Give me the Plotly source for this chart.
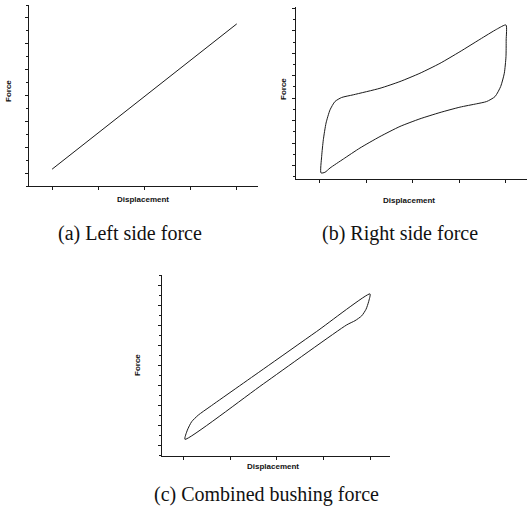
import plotly.graph_objects as go

# (a) Left side force: linear spring
left_disp = [-1.0, 1.0]
left_force = [-2.85, 2.77]

# (b) Right side force: hysteresis loop (loading branch, then unloading branch)
right_disp = [-0.989, -0.982, -0.964, -0.935, -0.892, -0.839, -0.767, -0.642, -0.355,
              -0.14, 0.075, 0.29, 0.505, 0.72, 0.90, 1.0,
              1.002, 1.0, 0.982, 0.943, 0.882, 0.792, 0.685, 0.505, 0.29, 0.075,
              -0.14, -0.355, -0.57, -0.749, -0.892, -0.946, -0.989]
right_force = [-3.33, -2.59, -1.85, -1.11, -0.52, -0.15, 0.03, 0.15, 0.44,
               0.74, 1.11, 1.55, 2.07, 2.62, 3.07, 3.26,
               2.59, 1.85, 1.11, 0.52, 0.07, -0.15, -0.25, -0.40, -0.64, -0.92,
               -1.26, -1.71, -2.22, -2.71, -3.11, -3.30, -3.33]

# (c) Combined bushing force: narrow loop
comb_disp = [-0.983, -0.957, -0.911, -0.84, -0.715, -0.143, 0.428, 1.0,
             0.985, 0.957, 0.91, 0.839, 0.75, -0.143, -0.983]
comb_force = [-3.68, -3.22, -2.80, -2.47, -2.05, -0.17, 1.71, 3.59,
              3.20, 2.82, 2.49, 2.25, 2.04, -0.91, -3.68]

W, H = 528, 514


def px_x(x):
    return x / W


def px_y(y):
    return 1 - y / H


line_style = dict(color="#1a1a1a", width=1)

fig = go.Figure()
fig.add_trace(go.Scatter(x=left_disp, y=left_force, mode="lines", line=line_style,
                         xaxis="x", yaxis="y"))
fig.add_trace(go.Scatter(x=right_disp, y=right_force, mode="lines",
                         line=dict(line_style, shape="spline", smoothing=0.6),
                         xaxis="x2", yaxis="y2"))
fig.add_trace(go.Scatter(x=comb_disp, y=comb_force, mode="lines",
                         line=dict(line_style, shape="spline", smoothing=0.6),
                         xaxis="x3", yaxis="y3"))


def xaxis(domain, rng, anchor):
    return dict(domain=domain, range=rng, anchor=anchor, showline=True, linecolor="#1a1a1a",
                linewidth=1, mirror=False, showgrid=False, zeroline=False,
                showticklabels=False, ticks="outside", ticklen=3, tickcolor="#1a1a1a",
                tickwidth=1, tick0=-1, dtick=0.5, fixedrange=True)


def yaxis(domain, rng, anchor):
    return dict(domain=domain, range=rng, anchor=anchor, showline=True, linecolor="#1a1a1a",
                linewidth=1, mirror=False, showgrid=False, zeroline=False,
                showticklabels=False, ticks="outside", ticklen=3, tickcolor="#1a1a1a",
                tickwidth=1, tick0=0, dtick=1,
                minor=dict(ticks="outside", ticklen=2, tickcolor="#1a1a1a", dtick=0.5,
                           tick0=0, showgrid=False),
                fixedrange=True)


fig.update_layout(
    width=W, height=H,
    margin=dict(l=0, r=0, t=0, b=0),
    paper_bgcolor="white", plot_bgcolor="white",
    showlegend=False,
    xaxis=xaxis([px_x(29), px_x(258)], [-1.25, 1.23], "y"),
    yaxis=yaxis([px_y(186), px_y(5)], [-3.5, 3.5], "x"),
    xaxis2=xaxis([px_x(296), px_x(527)], [-1.258, 1.226], "y2"),
    yaxis2=yaxis([px_y(179), px_y(7)], [-3.6, 4.06], "x2"),
    xaxis3=xaxis([px_x(161.7), px_x(390)], [-1.232, 1.214], "y3"),
    yaxis3=yaxis([px_y(455.7), px_y(275)], [-4.5, 4.535], "x3"),
)

small = dict(family="Liberation Sans, Arial, sans-serif", size=8, color="#111")
caption = dict(family="Liberation Serif, Times New Roman, serif", size=20, color="#111")

annotations = [
    # axis titles
    dict(x=px_x(8), y=px_y(91), text="<b>Force</b>", textangle=-90, font=small),
    dict(x=px_x(143), y=px_y(200), text="<b>Displacement</b>", font=small),
    dict(x=px_x(283), y=px_y(89), text="<b>Force</b>", textangle=-90, font=small),
    dict(x=px_x(409), y=px_y(201), text="<b>Displacement</b>", font=small),
    dict(x=px_x(137), y=px_y(365), text="<b>Force</b>", textangle=-90, font=small),
    dict(x=px_x(273), y=px_y(466), text="<b>Displacement</b>", font=small),
    # panel captions
    dict(x=px_x(130), y=px_y(234), text="(a) Left side force", font=caption),
    dict(x=px_x(399.5), y=px_y(234), text="(b) Right side force", font=caption),
    dict(x=px_x(266), y=px_y(494), text="(c) Combined bushing force", font=caption),
]
for a in annotations:
    a.update(xref="paper", yref="paper", showarrow=False, xanchor="center", yanchor="middle")
fig.update_layout(annotations=annotations)

fig.write_html("out.html")
